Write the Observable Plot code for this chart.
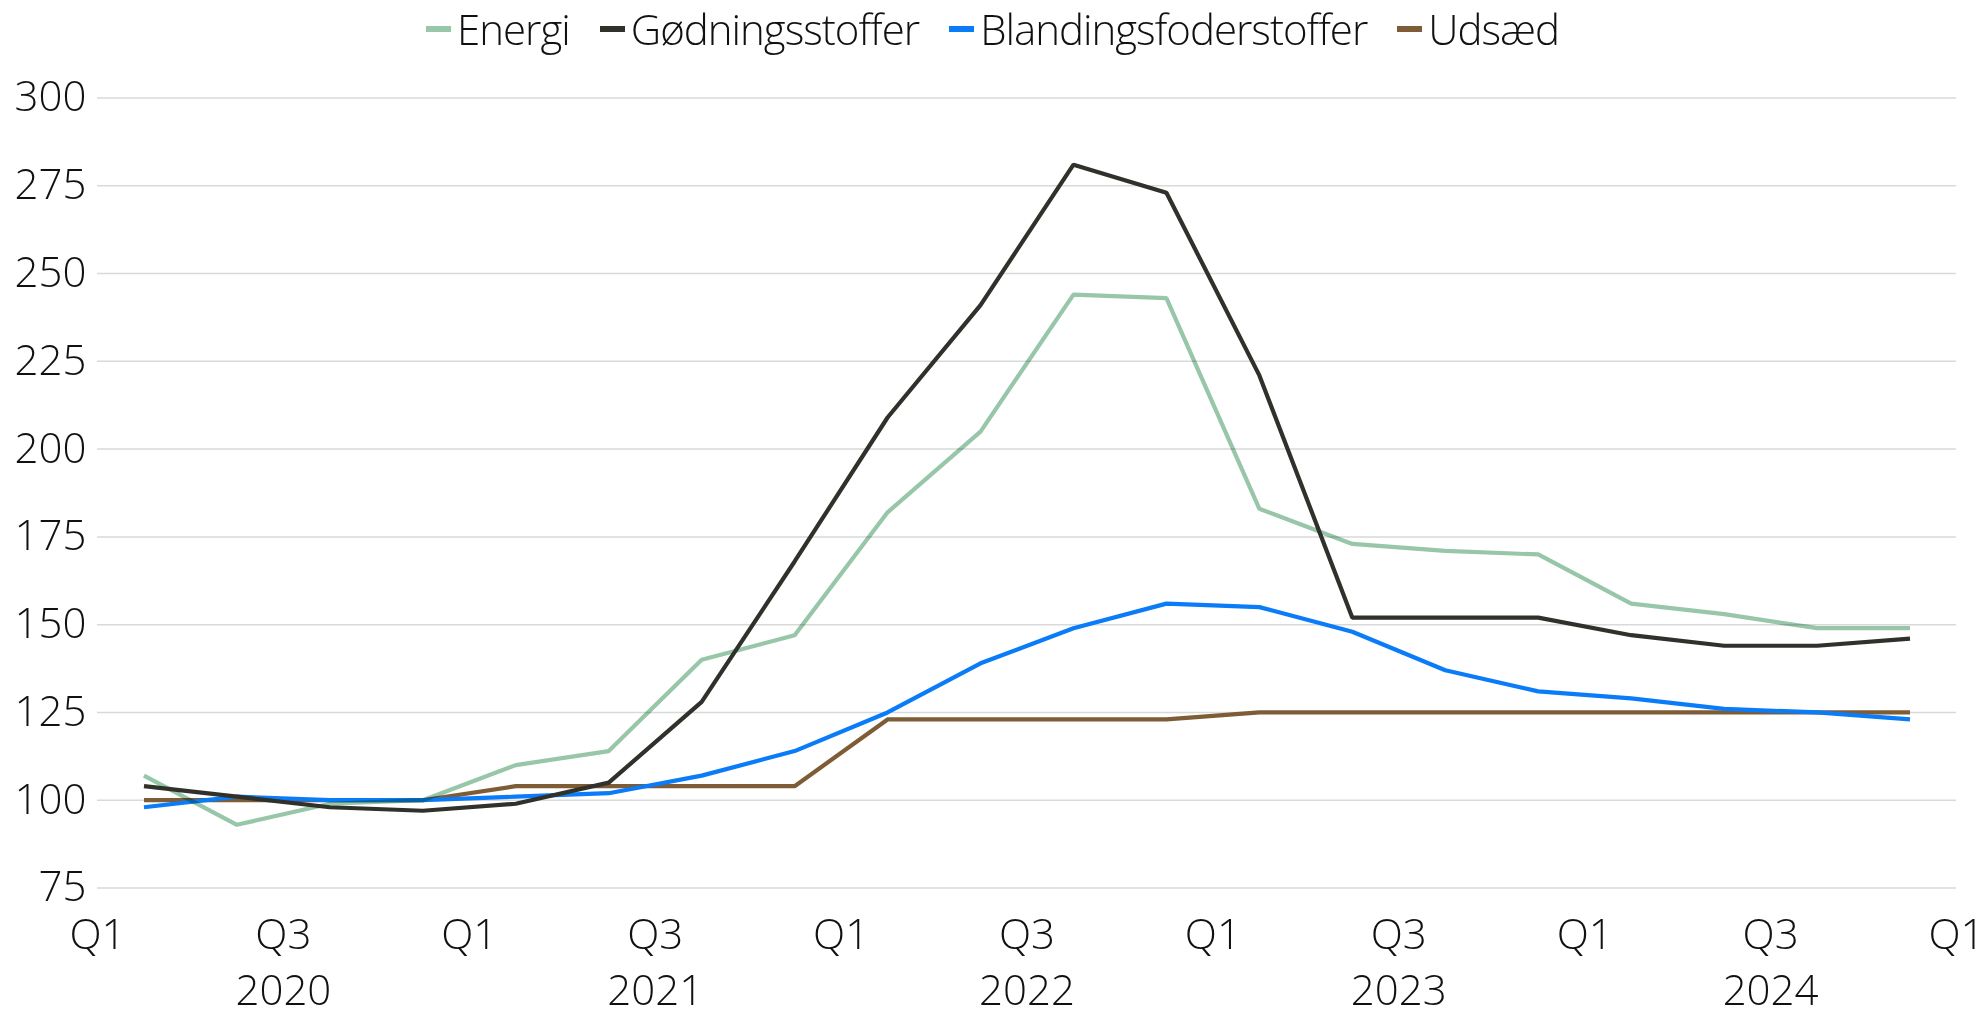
<!DOCTYPE html>
<html><head><meta charset="utf-8">
<script src="https://cdn.jsdelivr.net/npm/d3@7"></script>
<script src="https://cdn.jsdelivr.net/npm/@observablehq/plot@0.6"></script>
<style>
body{margin:0;background:#fff;font-family:"Open Sans",sans-serif;font-weight:300;}
#legend{height:58px;display:flex;justify-content:center;align-items:center;gap:30px;font-size:42px;line-height:58px;letter-spacing:-1px;color:#111;}
.item{display:flex;align-items:center;}
.sw{width:25px;height:6px;margin-right:6px;}
svg text{font-weight:300;}
</style></head><body>
<div id="legend"></div><div id="chart"></div>
<script>
const quarters = ["2020K1","2020K2","2020K3","2020K4","2021K1","2021K2","2021K3","2021K4","2022K1","2022K2","2022K3","2022K4","2023K1","2023K2","2023K3","2023K4","2024K1","2024K2","2024K3","2024K4"];
const series = ["Energi","Gødningsstoffer","Blandingsfoderstoffer","Udsæd"];
const colors = ["#98c6a9","#31312c","#0a7cf7","#7d5c36"];
const energi = [107,93,99,100,110,114,140,147,182,205,244,243,183,173,171,170,156,153,149,149];
const goedning = [104,101,98,97,99,105,128,168,209,241,281,273,221,152,152,152,147,144,144,146];
const blanding = [98,101,100,100,101,102,107,114,125,139,149,156,155,148,137,131,129,126,125,123];
const udsaed = [100,100,100,100,104,104,104,104,123,123,123,123,125,125,125,125,125,125,125,125];
const tickLabels = ["Q1","Q3","Q1","Q3","Q1","Q3","Q1","Q3","Q1","Q3","Q1"];
const years = ["2020","2021","2022","2023","2024"];
const yTicks = [75,100,125,150,175,200,225,250,275,300];

const values = [energi, goedning, blanding, udsaed];
const rows = [];
series.forEach((s, k) => values[k].forEach((v, i) => rows.push({series: s, quarter: quarters[i], x: i + 0.5, value: v})));

const legend = document.getElementById("legend");
series.forEach((s, k) => {
  const it = document.createElement("div"); it.className = "item";
  const sw = document.createElement("div"); sw.className = "sw"; sw.style.background = colors[k];
  const t = document.createElement("span"); t.textContent = s;
  it.appendChild(sw); it.appendChild(t); legend.appendChild(it);
});

const drawOrder = ["Udsæd","Blandingsfoderstoffer","Energi","Gødningsstoffer"];
const chart = Plot.plot({
  width: 1985, height: 959,
  marginTop: 39.5, marginBottom: 129.5, marginLeft: 97, marginRight: 29,
  x: {domain: [0, 20]},
  y: {domain: [75, 300]},
  color: {domain: series, range: colors},
  style: {fontFamily: '"Open Sans",sans-serif', fontSize: "42px", color: "#111", background: "#fff", overflow: "visible"},
  marks: [
    Plot.gridY(yTicks, {stroke: "#d9d9d9", strokeOpacity: 1, strokeWidth: 1.5}),
    Plot.axisY(yTicks, {tickSize: 0, tickPadding: 11, label: null, fontSize: 42}),
    Plot.axisX(d3.range(0, 21, 2), {tickSize: 0, tickPadding: 31, label: null, fontSize: 42, tickFormat: d => tickLabels[d / 2]}),
    Plot.axisX([2, 6, 10, 14, 18], {tickSize: 0, tickPadding: 87, label: null, fontSize: 42, tickFormat: d => years[(d - 2) / 4]}),
    ...drawOrder.map(s => Plot.line(rows.filter(r => r.series === s), {
      x: "x", y: "value", stroke: "series", strokeWidth: 4.2,
      strokeLinecap: "butt", strokeLinejoin: "miter",
      mixBlendMode: s === "Energi" ? "multiply" : "normal"
    }))
  ]
});
document.getElementById("chart").appendChild(chart);
</script>
</body></html>
